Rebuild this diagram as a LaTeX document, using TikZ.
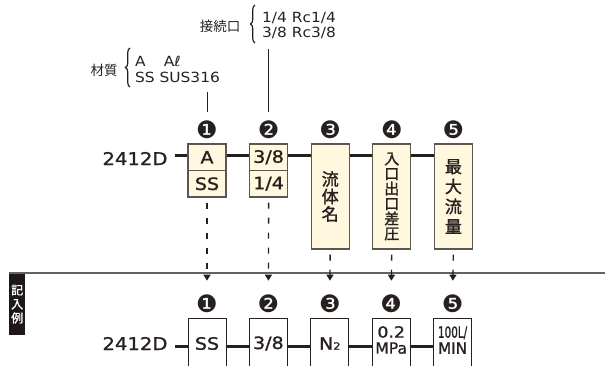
\documentclass[tikz,border=0pt]{standalone}
\usepackage{fontspec}
\setmainfont{DejaVu Sans}[FakeStretch=1.12,FakeBold=1.2]
\newfontfamily\notefont{DejaVu Sans}[FakeStretch=1.1]
\newfontfamily\jpfont{Noto Sans CJK JP}
\newfontfamily\jpheavy{Noto Sans CJK JP}[FakeBold=1.6]
\newfontfamily\dingfont{DejaVu Sans}
\usetikzlibrary{positioning}
\usetikzlibrary{arrows.meta,decorations.pathreplacing}
\newcommand{\BoxWidth}{38pt}
\newcommand{\Gap}{22.5pt}
\newcommand{\TopRow}{155}
\newcommand{\LowRow}{346}
\newcommand{\RuleY}{273}
\definecolor{Ink}{RGB}{38, 33, 30}
\definecolor{Frame}{RGB}{92, 86, 80}
\definecolor{Cream}{RGB}{255, 248, 222}
\definecolor{RuleGray}{RGB}{100, 98, 96}
\definecolor{TagBlack}{RGB}{30, 25, 24}

\begin{document}
\begin{tikzpicture}[x=1pt,y=-1pt]
  \tikzstyle{every node}=[text=Ink,inner sep=0pt]
  \tikzstyle{cell}=[draw=Frame,line width=1.1pt,fill=Cream,minimum width=\BoxWidth,minimum height=26.5pt,font=\fontsize{17}{17}\selectfont]
  \tikzstyle{tallcell}=[cell,minimum height=105pt,align=center]
  \tikzstyle{slot}=[draw=Ink,line width=0.9pt,fill=white,minimum width=\BoxWidth,minimum height=51pt,font=\fontsize{17}{17}\selectfont]
  \tikzstyle{num}=[font=\dingfont\fontsize{24}{24}\selectfont]
  \tikzstyle{trunk}=[Ink,line width=3pt]
  \tikzstyle{drop}=[Ink,line width=1.4pt,dash pattern=on 6pt off 9pt,dash phase=10pt,shorten >=13.5pt,-{Triangle[width=7pt,length=6pt]}]
  \tikzstyle{lead}=[Ink,line width=1pt,shorten <=9.5pt,shorten >=8pt]
  \tikzstyle{curly}=[Ink,line width=1.2pt,decorate,decoration={brace,amplitude=4.5pt}]
  \tikzstyle{note}=[anchor=west,align=left,font=\notefont\fontsize{14}{15.5}\selectfont]
  \useasboundingbox (0,0) rectangle (605,365);
  \clip (0,0) rectangle (605,365);

  % Notes
  \node[font=\jpfont\fontsize{13.5}{13.5}\selectfont] (mat) at (104,70) {材質};
  \node[note] (matval) at (135,69.5) {A\hspace{1.3em}Aℓ\\SS SUS316};
  \draw[curly] (130,87) -- (130,48);
  \node[font=\jpfont\fontsize{13.5}{13.5}\selectfont] (port) at (220,26) {接続口};
  \node[note] (portval) at (262,25.5) {1/4 Rc1/4\\3/8 Rc3/8};
  \draw[curly] (255,43) -- (255,5);

  % Top row
  \coordinate (row1) at (0,\TopRow);
  \node[font=\fontsize{17.5}{17.5}\selectfont] (code) at (135,158.5) {2412D};
  \node[cell] (b1a) at (207,157.25) {A};
  \node[cell,below=-1.1pt of b1a] (b1b) {SS};
  \node[cell,right=\Gap of b1a] (b2a) {3/8};
  \node[cell,below=-1.1pt of b2a] (b2b) {1/4};
  \node[tallcell,right=\Gap of b2a.north east,anchor=north west,font=\jpheavy\fontsize{17}{17.5}\selectfont] (b3) {流\\体\\名};
  \node[tallcell,right=\Gap of b3.north east,anchor=north west,font=\jpheavy\fontsize{15}{15}\selectfont] (b4) {入\\口\\出\\口\\差\\圧};
  \node[tallcell,right=\Gap of b4.north east,anchor=north west,font=\jpheavy\fontsize{17}{20}\selectfont] (b5) {最\\大\\流\\量};
  \draw[trunk,shorten <=7pt] (code.east |- row1) -- (b1a.west |- row1);
  \draw[trunk] (b1a.east |- row1) -- (b2a.west |- row1);
  \draw[trunk] (b2a.east |- row1) -- (b3.west |- row1);
  \draw[trunk] (b3.east |- row1) -- (b4.west |- row1);
  \draw[trunk] (b4.east |- row1) -- (b5.west |- row1);
  \node[num,above=5pt of b1a] (n1) {❶};
  \node[num,above=5pt of b2a] (n2) {❷};
  \node[num,above=5pt of b3] (n3) {❸};
  \node[num,above=5pt of b4] (n4) {❹};
  \node[num,above=5pt of b5] (n5) {❺};
  \draw[lead] (n1.north |- matval.south) -- (n1.north);
  \draw[lead] (n2.north |- portval.south) -- (n2.north);

  % Example band
  \node[fill=TagBlack,minimum width=16pt,minimum height=62pt,anchor=north west,text=white,align=center,font=\jpheavy\fontsize{12}{14}\selectfont] (tag) at (9,\RuleY) {記\\入\\例};
  \coordinate (edge) at (605,\RuleY);
  \draw[RuleGray,line width=1.5pt] (tag.north west) -- (edge);

  % Filled-in row
  \coordinate (row2) at (0,\LowRow);
  \node[font=\fontsize{17.5}{17.5}\selectfont] (code2) at (135,343.5) {2412D};
  \node[slot] (c1) at (207,343.5) {SS};
  \node[slot,right=\Gap of c1] (c2) {3/8};
  \node[slot,right=\Gap of c2] (c3) {N{\fontsize{10}{10}\selectfont 2}};
  \node[slot,right=\Gap of c3,label={[name=v4,align=center,yshift=3.5pt,font=\fontsize{15.5}{16}\selectfont]center:0.2\\\scalebox{0.9}[1]{MPa}}] (c4) {};
  \node[slot,right=\Gap of c4,label={[name=v5,align=center,yshift=3.5pt,font=\fontsize{15.5}{16}\selectfont]center:\scalebox{0.6}[1]{100L/}\\\scalebox{0.88}[1]{MIN}}] (c5) {};
  \draw[trunk,shorten <=7pt] (code2.east |- row2) -- (c1.west |- row2);
  \draw[trunk] (c1.east |- row2) -- (c2.west |- row2);
  \draw[trunk] (c2.east |- row2) -- (c3.west |- row2);
  \draw[trunk] (c3.east |- row2) -- (c4.west |- row2);
  \draw[trunk] (c4.east |- row2) -- (c5.west |- row2);
  \node[num,above=5pt of c1] (m1) {❶};
  \node[num,above=5pt of c2] (m2) {❷};
  \node[num,above=5pt of c3] (m3) {❸};
  \node[num,above=5pt of c4] (m4) {❹};
  \node[num,above=5pt of c5] (m5) {❺};

  % Drops
  \draw[drop] (b1b.south) -- (m1.north);
  \draw[drop] (b2b.south) -- (m2.north);
  \draw[drop] (b3.south) -- (m3.north);
  \draw[drop] (b4.south) -- (m4.north);
  \draw[drop] (b5.south) -- (m5.north);
\end{tikzpicture}
\end{document}
